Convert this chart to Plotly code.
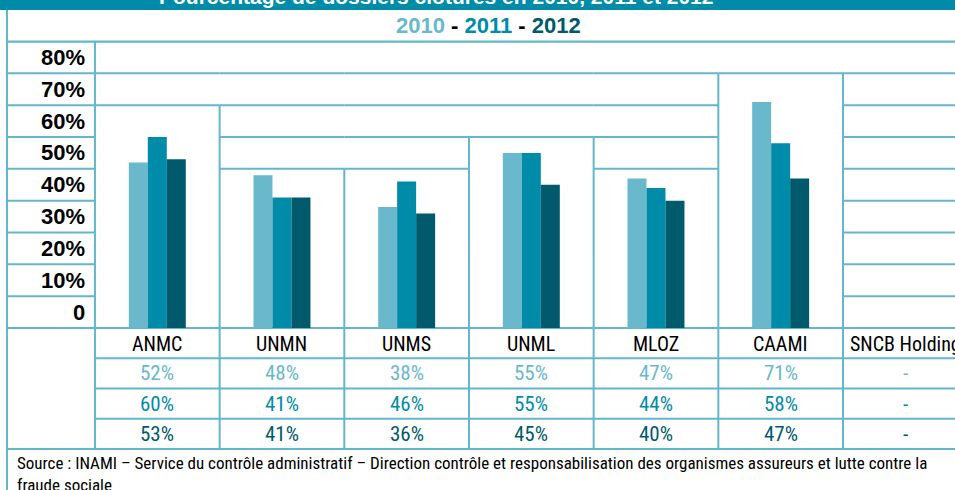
import plotly.graph_objects as go

# ---- data ----
categories = ["ANMC", "UNMN", "UNMS", "UNML", "MLOZ", "CAAMI", "SNCB Holding"]
years = ["2010", "2011", "2012"]
v2010 = [52, 48, 38, 55, 47, 71, None]
v2011 = [60, 41, 46, 55, 44, 58, None]
v2012 = [53, 41, 36, 45, 40, 47, None]
tick_values = [0, 10, 20, 30, 40, 50, 60, 70, 80]
title_text = "Pourcentage de dossiers clôturés en 2010, 2011 et 2012"
source_text = ("Source : INAMI – Service du contrôle administratif – Direction contrôle et "
               "responsabilisation des organismes assureurs et lutte contre la<br>fraude sociale")

# ---- style ----
W, H = 955, 490
C10, C11, C12 = "#6AB8CC", "#008CA8", "#005A6C"
HEAD = "#008CA8"
GRID = "#62B8CA"
LW = 2
NARROW = "Liberation Sans Narrow, Roboto Condensed, DejaVu Sans Condensed, Arial Narrow, sans-serif"
BOLD = "Liberation Sans, Arial, Helvetica, sans-serif"

# pixel geometry helpers
COL_W = 124.67
X0 = 157.3           # pixel centre of first category
Y_TOP, Y_ZERO = 41.5, 328.0
YMAX = 90


def xc(px):  # pixel -> category axis units
    return (px - X0) / COL_W


def yp(py):  # pixel -> paper
    return 1 - py / H


fig = go.Figure()
for name, vals, col in zip(years, [v2010, v2011, v2012], [C10, C11, C12]):
    fig.add_trace(go.Bar(x=categories, y=vals, name=name, marker=dict(color=col, line=dict(width=0)),
                         hoverinfo="x+y"))

shapes = []


def line(x0, y0, x1, y1, xref, yref, color=GRID, width=LW):
    shapes.append(dict(type="line", x0=x0, y0=y0, x1=x1, y1=y1, xref=xref, yref=yref,
                       line=dict(color=color, width=width), layer="below"))


# header band
shapes.append(dict(type="rect", xref="paper", yref="paper", x0=0, x1=1, y0=yp(10), y1=1,
                   fillcolor=HEAD, line=dict(width=0), layer="below"))

# box tops per category derived from values
boxtop = []
for i in range(len(categories)):
    vals = [v for v in (v2010[i], v2011[i], v2012[i]) if v is not None]
    boxtop.append((max(vals) // 10) * 10 + 10 if vals else 0)

xl = xc(7)
xr = xc(W + 20)
# label column horizontal lines
for L in range(0, YMAX + 1, 10):
    line(xl, L, -0.5, L, "x", "y")
# category horizontal lines
for i in range(len(categories)):
    for L in range(0, YMAX + 1, 10):
        if L >= boxtop[i]:
            x1 = i + 0.5 if i < len(categories) - 1 else xr
            line(i - 0.5, L, x1, L, "x", "y")
# vertical lines between categories
for i in range(len(categories) - 1):
    line(i + 0.5, 0, i + 0.5, max(boxtop[i], boxtop[i + 1]), "x", "y")
line(-0.5, 0, -0.5, YMAX, "x", "y")

# year header row line + left border
line(xl, yp(10), xl, 0, "x", "paper")
line(xl, yp(Y_TOP), xr, yp(Y_TOP), "x", "paper")

# lower table
rows_y = [328, 358.3, 388.5, 418.7, 449]
for k, ry in enumerate(rows_y):
    x_start = xl if k in (0, len(rows_y) - 1) else -0.5
    line(x_start, yp(ry), xr, yp(ry), "x", "paper")
for i in range(len(categories)):
    line(i - 0.5, yp(328), i - 0.5, yp(449), "x", "paper")

annotations = []
# title (cropped by the top edge)
annotations.append(dict(text="<b>" + title_text + "</b>", x=436 / W, y=yp(10), xref="paper", yref="paper",
                        xanchor="center", yanchor="bottom", showarrow=False,
                        font=dict(family=BOLD, size=21, color="white")))
# year header
annotations.append(dict(
    text=(f"<b><span style='color:{C10}'>{years[0]}</span> - "
          f"<span style='color:{C11}'>{years[1]}</span> - "
          f"<span style='color:{C12}'>{years[2]}</span></b>"),
    x=488 / W, y=yp(26), xref="paper", yref="paper", xanchor="center", yanchor="middle",
    showarrow=False, font=dict(family=BOLD, size=22, color="black")))
# y tick labels (centred in the row above each gridline)
for v in tick_values:
    annotations.append(dict(text="<b>" + (f"{v}%" if v else "0") + "</b>", x=87 / W, y=v + 5,
                            xref="paper", yref="y", xanchor="right", yanchor="middle", showarrow=False,
                            font=dict(family=BOLD, size=22, color="black")))
# category labels
for i, c in enumerate(categories):
    annotations.append(dict(text=c, x=i, y=yp(343.5), xref="x", yref="paper", xanchor="center",
                            yanchor="middle", showarrow=False,
                            font=dict(family=NARROW, size=20, color="black")))
# value rows
for r, (vals, col) in enumerate(zip([v2010, v2011, v2012], [C10, C11, C12])):
    cy = (rows_y[r + 1] + rows_y[r + 2]) / 2
    for i, v in enumerate(vals):
        annotations.append(dict(text=(f"{v}%" if v is not None else "-"), x=i, y=yp(cy), xref="x",
                                yref="paper", xanchor="center", yanchor="middle", showarrow=False,
                                font=dict(family=NARROW, size=21, color=col)))
# source
annotations.append(dict(text=source_text, x=15 / W, y=yp(451), xref="paper", yref="paper",
                        xanchor="left", yanchor="top", align="left", showarrow=False,
                        font=dict(family=NARROW, size=17, color="black")))

fig.update_layout(
    width=W, height=H, autosize=False,
    margin=dict(l=0, r=0, t=0, b=0, pad=0),
    paper_bgcolor="white", plot_bgcolor="rgba(0,0,0,0)",
    barmode="group", bargap=0.543, bargroupgap=0,
    showlegend=False,
    xaxis=dict(type="category", range=[xc(0), xc(W)], domain=[0, 1], showgrid=False,
               showticklabels=False, zeroline=False, showline=False, fixedrange=True),
    yaxis=dict(range=[0, YMAX], domain=[yp(Y_ZERO), yp(Y_TOP)], showgrid=False,
               showticklabels=False, zeroline=False, showline=False, fixedrange=True),
    shapes=shapes, annotations=annotations,
)

fig.write_html("out.html", config={"displayModeBar": False},
               post_script="document.body.style.margin='0';document.body.style.overflow='hidden';")
